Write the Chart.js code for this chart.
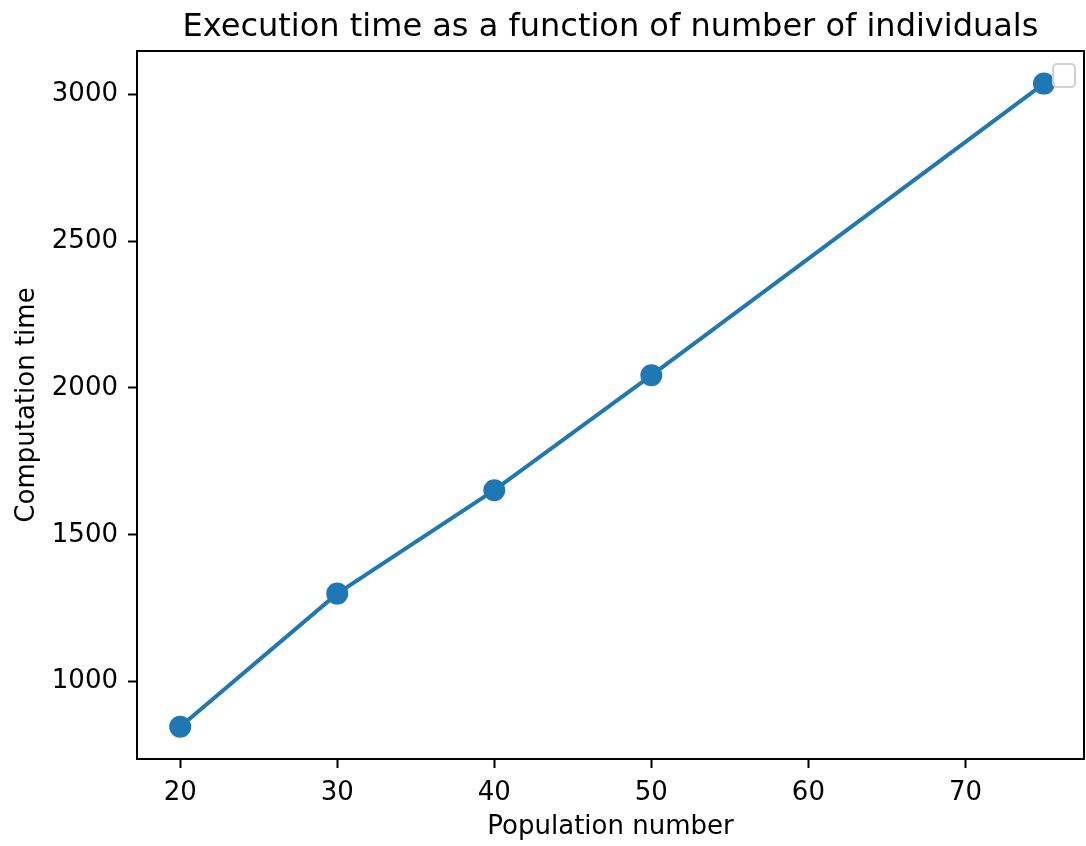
<!DOCTYPE html>
<html>
<head>
<meta charset="utf-8">
<script src="https://cdn.jsdelivr.net/npm/chart.js@4/dist/chart.umd.min.js"></script>
<style>
  html, body { margin: 0; padding: 0; background: #fff; }
  canvas { display: block; }
</style>
</head>
<body>
<canvas id="timeChart" width="1086" height="846"></canvas>
<script>
const populations = [20, 30, 40, 50, 75];
const computeTimes = [847, 1300, 1652, 2043, 3036];
const xTicks = [20, 30, 40, 50, 60, 70];
const yTicks = [1000, 1500, 2000, 2500, 3000];

// full box around plot + the empty legend frame
const frame = {
    id: 'frame',
    afterDraw(chart) {
        const { ctx, chartArea: a } = chart;
        ctx.save();
        ctx.strokeStyle = '#000';
        ctx.lineWidth = 2;
        ctx.strokeRect(a.left, a.top, a.right - a.left, a.bottom - a.top);
        ctx.fillStyle = 'rgba(255,255,255,0.8)';
        ctx.strokeStyle = '#d0d0d0';
        ctx.lineWidth = 2;
        ctx.beginPath();
        ctx.roundRect(a.right - 31, a.top + 13, 22, 23, 4);
        ctx.fill();
        ctx.stroke();
        ctx.restore();
    }
};

const tickFont = { family: 'DejaVu Sans', size: 26 };

new Chart(document.getElementById('timeChart'), {
    type: 'line',
    data: {
        datasets: [{
            data: populations.map((x, i) => ({ x: x, y: computeTimes[i] })),
            borderColor: '#1f77b4',
            backgroundColor: '#1f77b4',
            borderWidth: 4,
            pointRadius: 9,
            pointHoverRadius: 9,
            tension: 0
        }]
    },
    options: {
        responsive: false,
        animation: false,
        layout: { autoPadding: false, padding: { top: 0, right: 2, bottom: 0, left: 0 } },
        plugins: {
            legend: { display: false },
            tooltip: { enabled: false },
            title: {
                display: true,
                fullSize: false,
                text: 'Execution time as a function of number of individuals',
                color: '#000',
                font: { family: 'DejaVu Sans', size: 32, weight: 'normal' },
                padding: { top: 8, bottom: 4.6 }
            }
        },
        scales: {
            x: {
                type: 'linear',
                min: 17.25,
                max: 77.55,
                afterBuildTicks: s => { s.ticks = xTicks.map(v => ({ value: v })); },
                afterFit: s => { s.height = 87; s.paddingLeft = 0; s.paddingRight = 0; },
                grid: { drawOnChartArea: false, tickLength: 9, tickWidth: 2, color: '#000' },
                border: { color: '#000', width: 2 },
                ticks: { color: '#000', font: tickFont, padding: 10, maxRotation: 0 },
                title: { display: true, text: 'Population number', color: '#000', font: tickFont, padding: { top: 0, bottom: 3 } }
            },
            y: {
                min: 737,
                max: 3147,
                afterBuildTicks: s => { s.ticks = yTicks.map(v => ({ value: v })); },
                afterFit: s => { s.width = 137; s.paddingTop = 0; s.paddingBottom = 0; },
                grid: { drawOnChartArea: false, tickLength: 9, tickWidth: 2, color: '#000' },
                border: { color: '#000', width: 2 },
                ticks: { color: '#000', font: tickFont, padding: 10, callback: v => String(v) },
                title: { display: true, text: 'Computation time', color: '#000', font: tickFont, padding: { top: 12, bottom: 0 } }
            }
        }
    },
    plugins: [frame]
});
</script>
</body>
</html>
